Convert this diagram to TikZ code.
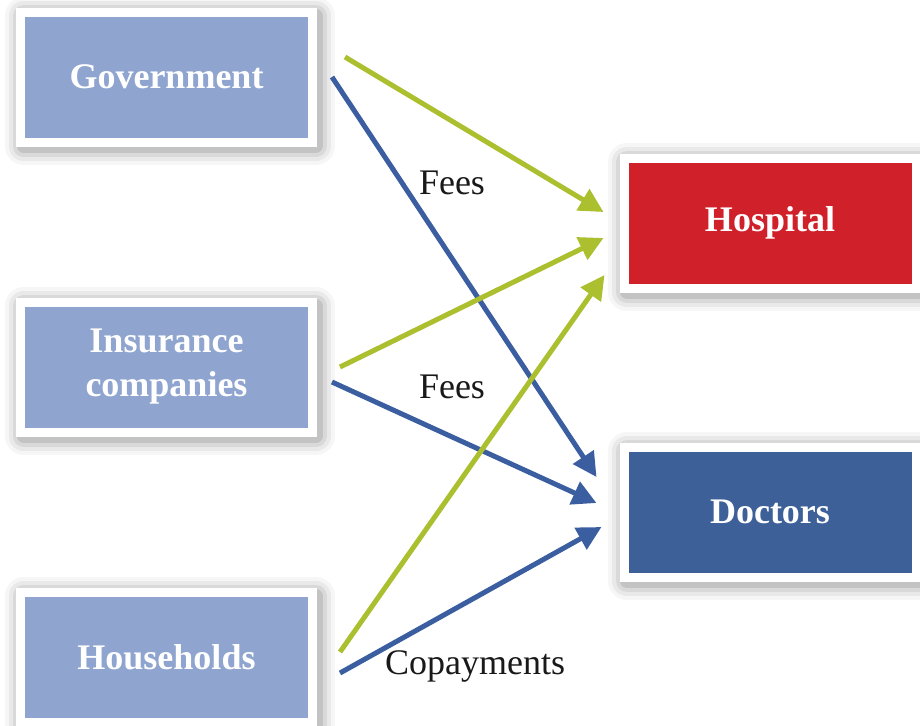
\documentclass[tikz,border=0pt]{standalone}
\usepackage{fontspec}
\setmainfont{Liberation Serif}
\usepackage{xcolor}
\usepackage{tikz}
\usepgflibrary{arrows.meta}

\definecolor{boxblue}{HTML}{8FA5CF}
\definecolor{hospred}{HTML}{D0202A}
\definecolor{docblue}{HTML}{3D6099}
\definecolor{flowgreen}{HTML}{ABBF2F}
\definecolor{flowblue}{HTML}{3A5EA0}

\begin{document}
\begin{tikzpicture}[x=0.5pt, y=-0.5pt,
    halo/.style 2 args={preaction={draw=black, fill=black, opacity=#2, line width=#1, line join=round,
      transform canvas={shift={(1.5pt,-2pt)}}}},
    box/.style={draw=white, line width=4.5pt, minimum width=146pt, minimum height=65pt,
      text=white, align=center, font=\bfseries\fontsize{18pt}{22pt}\selectfont,
      halo={19pt}{0.035}, halo={15pt}{0.05}, halo={11pt}{0.07}, halo={7pt}{0.10}},
    flow/.style={line width=2.5pt, -{Triangle[length=12pt, width=12pt]}},
    tag/.style={font=\fontsize{18pt}{22pt}\selectfont, text=black!90}]
    \useasboundingbox (0,0) rectangle (920,725);
    \node[box, fill=boxblue] (NGov) at (166.5,77) {Government};
    \node[box, fill=boxblue] (NIns) at (166.5,367) {Insurance\\companies};
    \node[box, fill=boxblue] (NHouse) at (166.5,657) {Households};
    \node[box, fill=hospred] (NHosp) at (770,223) {Hospital};
    \node[box, fill=docblue] (NDoc) at (770,512) {Doctors};
    \draw [flow, draw=flowgreen] ([shift={(28,-20)}]NGov.east) -- ([shift={(-16,-11)}]NHosp.west);
    \draw [flow, draw=flowblue] ([shift={(15,0)}]NGov.east) -- ([shift={(-23,-35)}]NDoc.west);
    \draw [flow, draw=flowgreen] ([shift={(23,0)}]NIns.east) -- ([shift={(-16,15)}]NHosp.west);
    \draw [flow, draw=flowblue] ([shift={(15,15)}]NIns.east) -- ([shift={(-23,-9)}]NDoc.west);
    \draw [flow, draw=flowgreen] ([shift={(23,-5)}]NHouse.east) -- ([shift={(-15,52)}]NHosp.west);
    \draw [flow, draw=flowblue] ([shift={(23,16)}]NHouse.east) -- ([shift={(-18,15)}]NDoc.west);
    \node[tag] (LFeesGov) at (452,183) {Fees};
    \node[tag] (LFeesIns) at (452,387) {Fees};
    \node[tag] (LCopay) at (475,666) {Copayments};
\end{tikzpicture}
\end{document}
